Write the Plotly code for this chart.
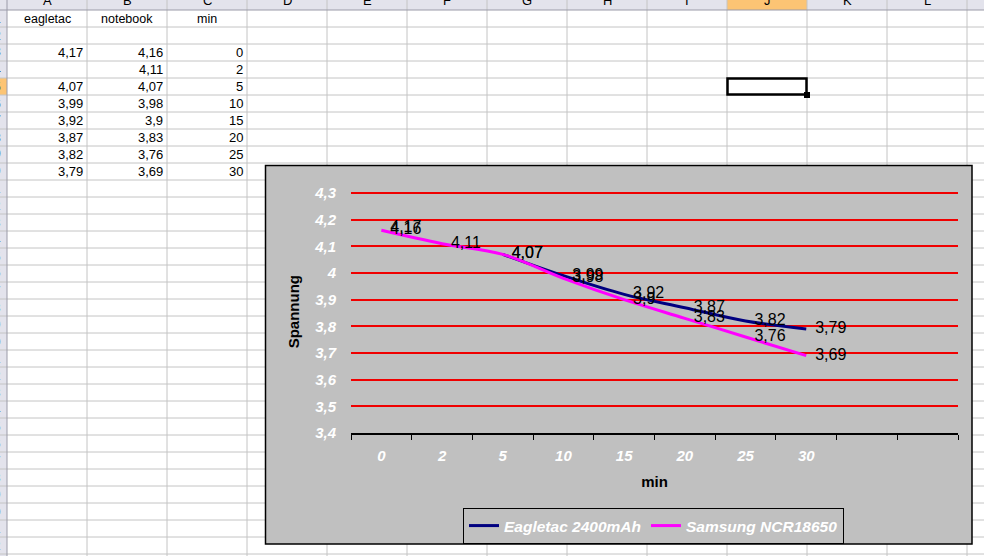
import plotly.graph_objects as go

# ---------------- data ----------------
minutes = [0, 2, 5, 10, 15, 20, 25, 30]
eagletac = [4.17, None, 4.07, 3.99, 3.92, 3.87, 3.82, 3.79]
notebook = [4.16, 4.11, 4.07, 3.98, 3.9, 3.83, 3.76, 3.69]
header_cells = ["eagletac", "notebook", "min"]
col_letters = ["A", "B", "C", "D", "E", "F", "G", "H", "I", "J", "K", "L"]
y_ticks = [3.4, 3.5, 3.6, 3.7, 3.8, 3.9, 4.0, 4.1, 4.2, 4.3]
series_names = ["Eagletac 2400mAh", "Samsung NCR18650"]

W, H = 984, 556
FONT = "Liberation Sans, Arial, sans-serif"


def X(p):
    return p / W


def Y(p):
    return 1 - p / H


def fmt(v):
    if v is None:
        return ""
    return f"{v:g}".replace(".", ",")


cats = [str(m) for m in minutes]
cat_array = cats + [" ", "  "]

# y range slightly above 4.3 so that the top grid line is kept
Y_MIN, Y_MAX = 3.4, 4.31
PX_PER_UNIT = (433 - 193) / (4.3 - 3.4)
plot_top = 433 - (Y_MAX - Y_MIN) * PX_PER_UNIT

fig = go.Figure()
fig.add_trace(go.Scatter(
    x=cats, y=eagletac, name=series_names[0], mode="lines+text",
    text=[fmt(v) for v in eagletac], texttemplate="\u00a0\u00a0%{text}", textposition="middle right",
    textfont=dict(family=FONT, size=16, color="black"),
    line=dict(color="#000080", width=3, shape="spline"),
    connectgaps=False, cliponaxis=False, hoverinfo="x+y",
))
fig.add_trace(go.Scatter(
    x=cats, y=notebook, name=series_names[1], mode="lines+text",
    text=[fmt(v) for v in notebook], texttemplate="\u00a0\u00a0%{text}", textposition="middle right",
    textfont=dict(family=FONT, size=16, color="black"),
    line=dict(color="#ff00ff", width=3, shape="spline"),
    cliponaxis=False, hoverinfo="x+y",
))

shapes = []
annotations = []
GRID = "#c4c4c4"
HDR = "#e3e3ec"
ORANGE = "#fcc474"

# header backgrounds
shapes.append(dict(type="rect", xref="paper", yref="paper", x0=X(0), x1=X(W), y0=Y(0), y1=Y(10),
                   fillcolor=HDR, line=dict(width=0), layer="below"))
shapes.append(dict(type="rect", xref="paper", yref="paper", x0=X(727), x1=X(807), y0=Y(0), y1=Y(10),
                   fillcolor=ORANGE, line=dict(width=0), layer="below"))
shapes.append(dict(type="rect", xref="paper", yref="paper", x0=X(0), x1=X(7), y0=Y(10), y1=Y(H),
                   fillcolor=HDR, line=dict(width=0), layer="below"))
shapes.append(dict(type="rect", xref="paper", yref="paper", x0=X(0), x1=X(7), y0=Y(78), y1=Y(95),
                   fillcolor=ORANGE, line=dict(width=0), layer="below"))

# horizontal grid lines
yy = 27
while yy < H:
    shapes.append(dict(type="line", xref="paper", yref="paper", x0=X(0), x1=X(W), y0=Y(yy), y1=Y(yy),
                       line=dict(color=GRID, width=1), layer="below"))
    yy += 17
# vertical grid lines
for i in range(1, 13):
    xx = 7 + 80 * i
    shapes.append(dict(type="line", xref="paper", yref="paper", x0=X(xx), x1=X(xx), y0=Y(0), y1=Y(H),
                       line=dict(color=GRID, width=1), layer="below"))
# header borders
shapes.append(dict(type="line", xref="paper", yref="paper", x0=X(0), x1=X(W), y0=Y(10), y1=Y(10),
                   line=dict(color="#9a9aa8", width=1), layer="below"))
shapes.append(dict(type="line", xref="paper", yref="paper", x0=X(7), x1=X(7), y0=Y(0), y1=Y(H),
                   line=dict(color="#9a9aa8", width=1), layer="below"))

# selected cell J5
shapes.append(dict(type="rect", xref="paper", yref="paper", x0=X(727.5), x1=X(806.5), y0=Y(78.5), y1=Y(94.5),
                   line=dict(color="black", width=2.5), layer="below"))
shapes.append(dict(type="rect", xref="paper", yref="paper", x0=X(804), x1=X(810), y0=Y(92), y1=Y(98),
                   fillcolor="black", line=dict(width=0), layer="below"))

# chart area box
shapes.append(dict(type="rect", xref="paper", yref="paper", x0=X(265.5), x1=X(972), y0=Y(165.5), y1=Y(544),
                   fillcolor="#c0c0c0", line=dict(color="black", width=1.5), layer="below"))

# column letters
for i, L in enumerate(col_letters):
    cx = 7 + 80 * i + 40
    annotations.append(dict(text=L, xref="paper", yref="paper", x=X(cx), y=Y(0), xanchor="center",
                            yanchor="middle", showarrow=False, font=dict(family=FONT, size=13, color="black")))
# row numbers (mostly hidden behind left edge)
for r in range(1, 33):
    cy = 10 + 17 * (r - 1) + 8.5
    annotations.append(dict(text=str(r), xref="paper", yref="paper", x=X(3), y=Y(cy), xanchor="right",
                            yanchor="middle", showarrow=False, font=dict(family=FONT, size=12, color="black")))

# header cells
for i, t in enumerate(header_cells):
    cx = 7 + 80 * i + 40
    annotations.append(dict(text=t, xref="paper", yref="paper", x=X(cx), y=Y(19), xanchor="center",
                            yanchor="middle", showarrow=False, font=dict(family=FONT, size=12.5, color="black")))
# data cells
for col, values in enumerate([eagletac, notebook, minutes]):
    rx = 7 + 80 * (col + 1) - 2
    for k, v in enumerate(values):
        if v is None:
            continue
        cy = 44 + 17 * k + 8.5
        annotations.append(dict(text=fmt(v), xref="paper", yref="paper", x=X(rx), y=Y(cy), xanchor="right",
                                yanchor="middle", showarrow=False,
                                font=dict(family=FONT, size=13, color="black")))

fig.update_layout(
    width=W, height=H, autosize=False,
    margin=dict(l=0, r=0, t=0, b=0, pad=0, autoexpand=False),
    paper_bgcolor="white", plot_bgcolor="rgba(0,0,0,0)",
    separators=",.",
    font=dict(family=FONT),
    shapes=shapes, annotations=annotations,
    showlegend=True,
    legend=dict(
        orientation="h", x=X(463), xanchor="left", y=Y(508), yanchor="top",
        bgcolor="rgba(0,0,0,0)", bordercolor="black", borderwidth=1,
        font=dict(family=FONT, size=15.5, color="white", weight="bold", style="italic"),
        itemwidth=30, traceorder="normal",
    ),
    xaxis=dict(
        type="category", categoryorder="array", categoryarray=cat_array,
        range=[-0.5, 9.5], domain=[X(351), X(958)], automargin=False,
        showline=True, linecolor="black", linewidth=1.5,
        ticks="outside", ticklen=5, tickcolor="black", tickwidth=1, tickson="boundaries",
        showgrid=False, zeroline=False, fixedrange=True,
        tickfont=dict(family=FONT, size=15, color="white", weight="bold", style="italic"),
        ticklabelstandoff=8,
        title=dict(text="min", font=dict(family=FONT, size=15, color="black", weight="bold"), standoff=14),
    ),
    yaxis=dict(
        range=[Y_MIN, Y_MAX], domain=[Y(433), Y(plot_top)], automargin=False,
        tickmode="array", tickvals=y_ticks, ticktext=[fmt(v) for v in y_ticks],
        showgrid=True, gridcolor="#f00000", gridwidth=1.6,
        showline=False, zeroline=False, ticks="", fixedrange=True,
        tickfont=dict(family=FONT, size=15, color="white", weight="bold", style="italic"),
        ticklabelstandoff=14,
        title=dict(text="Spannung", font=dict(family=FONT, size=15, color="black", weight="bold"), standoff=10),
    ),
)

fig.write_html("out.html")
